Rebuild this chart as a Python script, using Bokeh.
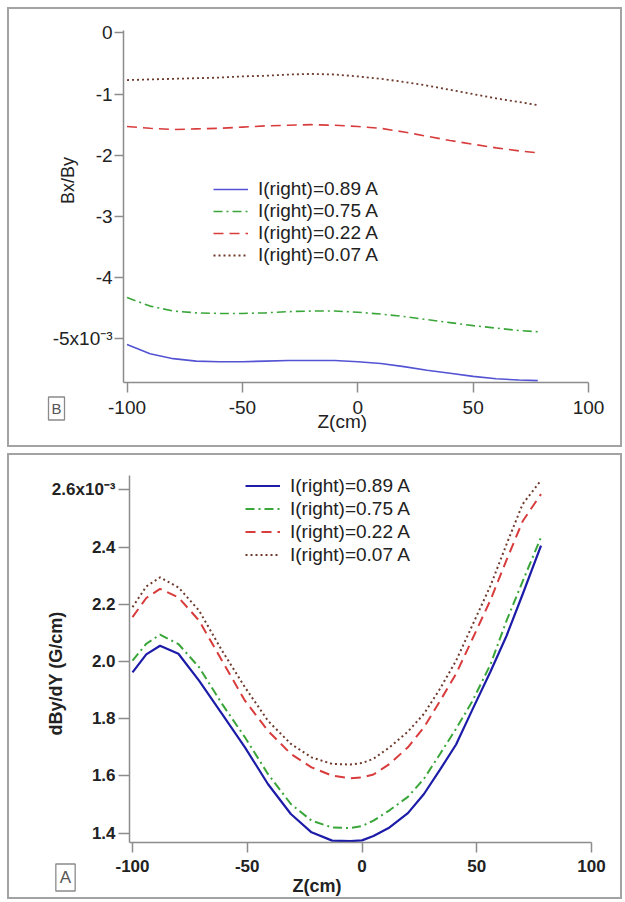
import math
from bokeh.plotting import figure
from bokeh.models import Legend, LegendItem, FixedTicker, Range1d, Label
from bokeh.layouts import column
from bokeh.embed import file_html
from bokeh.resources import INLINE

# ---------------- data ----------------
series_labels = ["I(right)=0.89 A", "I(right)=0.75 A", "I(right)=0.22 A", "I(right)=0.07 A"]

# Panel B : Bx/By (x1e-3) vs Z (cm)
z_top = [-100, -90, -80, -70, -60, -50, -40, -30, -20, -10, 0, 10, 20, 30, 40, 50, 60, 70, 78]
bxby_089 = [-5.10, -5.25, -5.33, -5.37, -5.38, -5.38, -5.37, -5.36, -5.36, -5.36, -5.38,
            -5.41, -5.46, -5.52, -5.57, -5.62, -5.66, -5.68, -5.69]
bxby_075 = [-4.33, -4.47, -4.55, -4.58, -4.59, -4.59, -4.58, -4.56, -4.55, -4.55, -4.57,
            -4.60, -4.64, -4.69, -4.74, -4.79, -4.83, -4.87, -4.89]
bxby_022 = [-1.53, -1.56, -1.58, -1.57, -1.56, -1.54, -1.52, -1.51, -1.50, -1.51, -1.53,
            -1.56, -1.62, -1.69, -1.76, -1.82, -1.88, -1.93, -1.96]
bxby_007 = [-0.77, -0.76, -0.75, -0.74, -0.73, -0.71, -0.70, -0.68, -0.67, -0.68, -0.71,
            -0.75, -0.80, -0.86, -0.93, -1.00, -1.07, -1.13, -1.18]

# Panel A : dBy/dY (G/cm, x1e-3) vs Z (cm)
z_bot = [-100, -94, -88, -80, -71, -61, -51, -41, -31, -22, -13, -5, 0, 5, 12, 20, 27, 34,
         41, 48, 56, 63, 70, 78]
dbdy_089 = [1.962, 2.025, 2.055, 2.027, 1.933, 1.817, 1.700, 1.572, 1.467, 1.403, 1.374, 1.372,
            1.375, 1.390, 1.420, 1.470, 1.537, 1.622, 1.710, 1.830, 1.965, 2.090, 2.235, 2.405]
dbdy_075 = [2.003, 2.062, 2.094, 2.061, 1.980, 1.852, 1.735, 1.607, 1.502, 1.444, 1.420, 1.418,
            1.425, 1.444, 1.480, 1.527, 1.590, 1.677, 1.765, 1.860, 1.990, 2.143, 2.280, 2.434]
dbdy_022 = [2.155, 2.222, 2.254, 2.224, 2.143, 2.003, 1.863, 1.758, 1.677, 1.630, 1.601, 1.592,
            1.595, 1.605, 1.642, 1.700, 1.770, 1.862, 1.957, 2.077, 2.215, 2.355, 2.490, 2.585]
dbdy_007 = [2.190, 2.262, 2.294, 2.259, 2.178, 2.038, 1.910, 1.793, 1.712, 1.665, 1.642, 1.640,
            1.645, 1.660, 1.700, 1.755, 1.817, 1.905, 2.003, 2.125, 2.265, 2.410, 2.550, 2.633]

x_ticks = [-100, -50, 0, 50, 100]
x_tick_labels = ["-100", "-50", "0", "50", "100"]
top_y_ticks = [0, -1, -2, -3, -4, -5]
top_y_tick_labels = ["0", "-1", "-2", "-3", "-4", "-5x10\u207b\u00b3"]
bot_y_ticks = [1.4, 1.6, 1.8, 2.0, 2.2, 2.4, 2.6]
bot_y_tick_labels = ["1.4", "1.6", "1.8", "2.0", "2.2", "2.4", "2.6x10\u207b\u00b3"]

FONT = "Liberation Sans"
AXIS_GRAY = "#8c8c8c"
TEXT = "#222222"


def style_axis(ax, ticks, labels, size, weight, standoff, tick_out, bounds, fixed):
    ax.ticker = FixedTicker(ticks=ticks)
    ax.major_label_overrides = {t: l for t, l in zip(ticks, labels)}
    ax.bounds = bounds
    ax.fixed_location = fixed
    ax.axis_line_color = AXIS_GRAY
    ax.axis_line_width = 1.5
    ax.major_tick_line_color = AXIS_GRAY
    ax.major_tick_line_width = 1.5
    ax.major_tick_in = 0
    ax.major_tick_out = tick_out
    ax.minor_tick_line_color = None
    ax.major_label_text_font = FONT
    ax.major_label_text_font_size = size
    ax.major_label_text_font_style = weight
    ax.major_label_text_color = TEXT
    ax.major_label_standoff = standoff


def make_fig(height, xr, yr, margin):
    p = figure(width=615, height=height, output_backend="svg", toolbar_location=None,
               x_range=Range1d(*xr), y_range=Range1d(*yr),
               min_border=0, min_border_left=0, min_border_right=0,
               min_border_top=0, min_border_bottom=0)
    p.margin = margin
    p.grid.visible = False
    p.outline_line_color = "#a3a3a3"
    p.outline_line_width = 3
    p.background_fill_color = "white"
    p.border_fill_color = "white"
    return p


def add_legend(p, renderers, loc, item_h):
    items = [LegendItem(label=l, renderers=[r]) for l, r in zip(series_labels, renderers)]
    leg = Legend(items=items, location=loc, border_line_color=None,
                 background_fill_alpha=0, padding=0, margin=0, spacing=0,
                 glyph_width=35, glyph_height=item_h, label_height=item_h, label_standoff=10,
                 label_text_font=FONT, label_text_font_size="19px", label_text_color=TEXT)
    p.add_layout(leg)


def add_text(p, x, y, text, size, weight="normal", angle=0.0, align="center", pad=0):
    kw = {}
    if pad:
        kw = dict(border_line_color="#8a8a8a", border_line_width=1.3,
                  background_fill_color="white", padding=pad)
    p.add_layout(Label(x=x, y=y, x_units="screen", y_units="screen", text=text, angle=angle,
                       text_align=align, text_baseline="middle", text_font=FONT,
                       text_font_size=size, text_font_style=weight,
                       text_color="#555555" if pad else TEXT, **kw))


# ---------------- panel B (top) ----------------
# pixel geometry of the panel: x_px = 357.25 + 2.3075*z, y_px = 32.5 - 61.1*v (page coords)
p1 = make_fig(440, (-151.79, 114.73), (-6.784, 0.4173), (7, 3, 0, 7))
style_axis(p1.xaxis[0], x_ticks, x_tick_labels, "19px", "normal", 9, 10,
           (-101.5, 100.1), -5.72)
style_axis(p1.yaxis[0], top_y_ticks, top_y_tick_labels, "19px", "normal", 2, 9,
           (-5.72, 0.041), -101.5)

r1 = [
    p1.line(z_top, bxby_089, line_color="#5353d4", line_width=1.6),
    p1.line(z_top, bxby_075, line_color="#3aa63a", line_width=1.6, line_dash="9 4 2 4"),
    p1.line(z_top, bxby_022, line_color="#d83c3c", line_width=1.6, line_dash="10 6"),
    p1.line(z_top, bxby_007, line_color="#6e3a2c", line_width=1.8, line_dash="2 3"),
]
add_legend(p1, r1, (206, 181), 22)
add_text(p1, 60, 267, "Bx/By", "18px", angle=math.pi / 2)
add_text(p1, 310, 26, "Z(cm)", "19px", align="left")
add_text(p1, 49, 39, "B", "15px", pad=3)

# ---------------- panel A (bottom) ----------------
# pixel geometry: x_px = 361.5 + 2.295*z, y_px = 489.3 - 286.17*(v - 2.6)
p2 = make_fig(446, (-154.47, 113.51), (1.1683, 2.7268), (0, 3, 0, 7))
style_axis(p2.xaxis[0], x_ticks, x_tick_labels, "17px", "bold", 8, 10,
           (-101.3, 100.1), 1.3675)
style_axis(p2.yaxis[0], bot_y_ticks, bot_y_tick_labels, "17px", "bold", 3, 11,
           (1.3675, 2.65), -101.3)

r2 = [
    p2.line(z_bot, dbdy_089, line_color="#1c1ca8", line_width=2.2),
    p2.line(z_bot, dbdy_075, line_color="#3aa63a", line_width=2.0, line_dash="9 4 2 4"),
    p2.line(z_bot, dbdy_022, line_color="#d83c3c", line_width=2.0, line_dash="10 6"),
    p2.line(z_bot, dbdy_007, line_color="#6e3a2c", line_width=2.0, line_dash="2 3"),
]
add_legend(p2, r2, (238, 333), 23)
add_text(p2, 48, 226, "dBy/dY (G/cm)", "18px", weight="bold", angle=math.pi / 2)
add_text(p2, 285, 14, "Z(cm)", "18px", weight="bold", align="left")
add_text(p2, 58, 22, "A", "17px", pad=4)

layout = column(p1, p2, spacing=6)
open("out.html", "w").write(file_html(layout, INLINE))
